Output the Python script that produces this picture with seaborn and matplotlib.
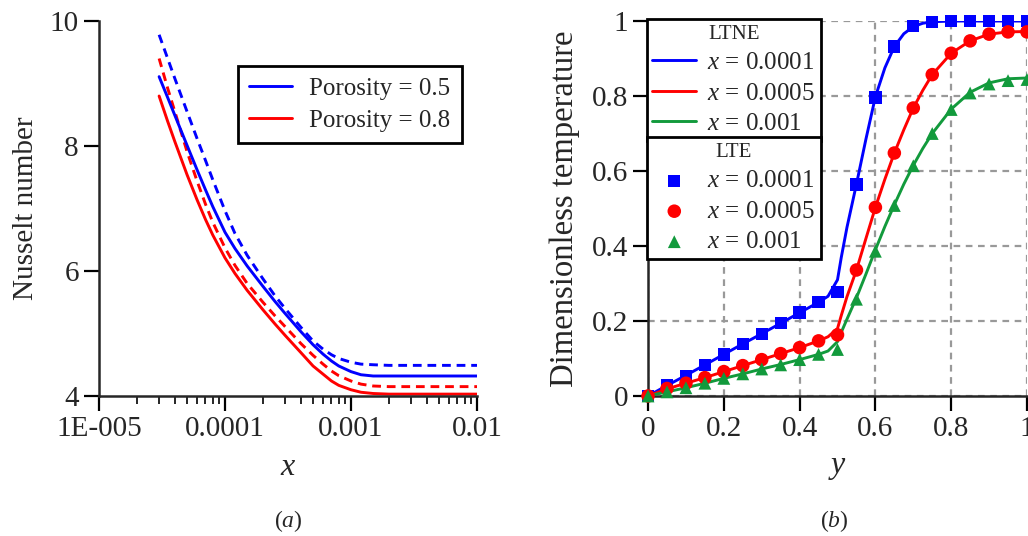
import matplotlib
matplotlib.use("Agg")
import matplotlib.pyplot as plt
import seaborn as sns
import pandas as pd
from matplotlib.ticker import NullFormatter, LogLocator

# ---------------- data: panel (a) ----------------
x_nu = [3e-5, 3.5e-5, 4e-5, 5e-5, 6e-5, 7e-5, 8e-5, 1e-4, 1.2e-4, 1.5e-4, 2e-4, 2.5e-4,
        3e-4, 4e-4, 5e-4, 6e-4, 7e-4, 8e-4, 1e-3, 1.2e-3, 1.5e-3, 2e-3, 3e-3, 1e-2]
nu_p05_solid = [9.11, 8.78, 8.49, 8.01, 7.62, 7.30, 7.03, 6.62, 6.36, 6.08, 5.755, 5.51,
                5.32, 5.03, 4.82, 4.67, 4.56, 4.48, 4.39, 4.34, 4.32, 4.32, 4.32, 4.32]
nu_p05_dashed = [9.78, 9.405, 9.08, 8.55, 8.12, 7.77, 7.46, 6.965, 6.60, 6.25, 5.875, 5.60,
                 5.40, 5.10, 4.88, 4.75, 4.66, 4.60, 4.54, 4.51, 4.50, 4.49, 4.49, 4.49]
nu_p08_solid = [8.80, 8.40, 8.07, 7.54, 7.14, 6.825, 6.575, 6.21, 5.96, 5.69, 5.38, 5.15,
                4.97, 4.695, 4.48, 4.35, 4.24, 4.17, 4.10, 4.06, 4.04, 4.03, 4.03, 4.03]
nu_p08_dashed = [9.40, 8.93, 8.55, 7.91, 7.44, 7.07, 6.78, 6.37, 6.09, 5.80, 5.50, 5.28,
                 5.11, 4.84, 4.65, 4.51, 4.40, 4.325, 4.24, 4.19, 4.16, 4.15, 4.15, 4.15]
porosity_labels = ["Porosity = 0.5", "Porosity = 0.8"]
x_ticks_a = [1e-5, 1e-4, 1e-3, 1e-2]
x_ticklabels_a = ["1E-005", "0.0001", "0.001", "0.01"]
y_ticks_a = [4, 6, 8, 10]

# ---------------- data: panel (b) ----------------
y_pts = [0, 0.05, 0.1, 0.15, 0.2, 0.25, 0.3, 0.35, 0.4, 0.45, 0.5,
         0.55, 0.6, 0.65, 0.7, 0.75, 0.8, 0.85, 0.9, 0.95, 1.0]
lte_x0001 = [0, 0.029, 0.054, 0.082, 0.111, 0.138, 0.165, 0.194, 0.223, 0.250, 0.277,
             0.564, 0.796, 0.932, 0.986, 0.998, 1.0, 1.0, 1.0, 1.0, 1.0]
lte_x0005 = [0, 0.020, 0.034, 0.049, 0.065, 0.081, 0.097, 0.113, 0.129, 0.147, 0.163,
             0.336, 0.503, 0.648, 0.768, 0.857, 0.914, 0.947, 0.965, 0.971, 0.971]
lte_x001 = [0, 0.011, 0.022, 0.034, 0.047, 0.059, 0.072, 0.083, 0.097, 0.111, 0.124,
            0.258, 0.386, 0.508, 0.614, 0.700, 0.764, 0.808, 0.832, 0.841, 0.844]

y_line = [0, 0.05, 0.1, 0.15, 0.2, 0.25, 0.3, 0.35, 0.4, 0.45, 0.475, 0.5, 0.51, 0.525,
          0.55, 0.575, 0.6, 0.625, 0.65, 0.675, 0.7, 0.725, 0.75, 0.8, 0.85, 0.9, 0.95, 1.0]
ltne_x0001 = [0, 0.028, 0.055, 0.083, 0.111, 0.139, 0.166, 0.194, 0.222, 0.250, 0.266, 0.310, 0.370, 0.450,
              0.565, 0.685, 0.798, 0.875, 0.932, 0.966, 0.985, 0.994, 0.998, 1.0, 1.0, 1.0, 1.0, 1.0]
ltne_x0005 = [0, 0.019, 0.034, 0.049, 0.065, 0.081, 0.097, 0.113, 0.129, 0.147, 0.158, 0.180, 0.215, 0.265,
              0.336, 0.420, 0.503, 0.578, 0.648, 0.710, 0.768, 0.815, 0.857, 0.914, 0.947, 0.965, 0.971, 0.972]
ltne_x001 = [0, 0.011, 0.022, 0.034, 0.047, 0.059, 0.072, 0.084, 0.097, 0.111, 0.120, 0.145, 0.170, 0.205,
             0.262, 0.325, 0.390, 0.452, 0.510, 0.565, 0.615, 0.660, 0.700, 0.765, 0.810, 0.835, 0.846, 0.848]
series_labels = ["$x$ = 0.0001", "$x$ = 0.0005", "$x$ = 0.001"]
ticks_b = [0, 0.2, 0.4, 0.6, 0.8, 1.0]
ticklabels_b = ["0", "0.2", "0.4", "0.6", "0.8", "1"]

BLUE, RED, GREEN = "#0000ff", "#ff0000", "#129a3c"

# ---------------- style ----------------
sns.set_style("ticks")
plt.rcParams["font.family"] = ["Liberation Serif", "DejaVu Serif"]
plt.rcParams["mathtext.fontset"] = "custom"
plt.rcParams["mathtext.rm"] = "Liberation Serif"
plt.rcParams["mathtext.it"] = "Liberation Serif:italic"
plt.rcParams["axes.linewidth"] = 1.8

fig = plt.figure(figsize=(10.28, 5.36), dpi=100)
ax1 = fig.add_axes([0.0963, 0.2612, 0.3677, 0.6996])
ax2 = fig.add_axes([0.6304, 0.2612, 0.3686, 0.6996])

TICK_FS = 21

# ---------------- panel (a) ----------------
df_a = pd.DataFrame({"x": x_nu, "s05": nu_p05_solid, "d05": nu_p05_dashed,
                     "s08": nu_p08_solid, "d08": nu_p08_dashed})
ax1.set_xscale("log")
handles_a = []
for col, color, dashed in [("d05", BLUE, True), ("d08", RED, True),
                           ("s05", BLUE, False), ("s08", RED, False)]:
    sns.lineplot(data=df_a, x="x", y=col, ax=ax1, color=color, lw=2.1)
    ln = ax1.lines[-1]
    if dashed:
        ln.set_dashes((3, 2))
    else:
        handles_a.append(ln)

ax1.set_xlim(1e-5, 1e-2)
ax1.set_ylim(4, 10)
ax1.set_xticks(x_ticks_a)
ax1.set_xticklabels(x_ticklabels_a)
ax1.xaxis.set_minor_locator(LogLocator(base=10, subs=range(2, 10)))
ax1.xaxis.set_minor_formatter(NullFormatter())
ax1.set_yticks(y_ticks_a)
ax1.set_yticklabels([str(v) for v in y_ticks_a])
ax1.tick_params(axis="both", which="major", direction="out", length=11, width=1.6,
                labelsize=TICK_FS, color="black")
ax1.tick_params(axis="x", which="minor", direction="out", length=6, width=1.4)
ax1.set_xlabel("$x$", fontsize=23, labelpad=8)
ax1.set_ylabel("Nusselt number", fontsize=21, labelpad=8)
for s in ["top", "right"]:
    ax1.spines[s].set_visible(False)
leg_a = ax1.legend(handles_a, porosity_labels, loc="upper right",
                   bbox_to_anchor=(0.960, 0.88), fontsize=18, frameon=True,
                   fancybox=False, framealpha=1, edgecolor="black",
                   handlelength=1.7, handletextpad=0.7, labelspacing=0.38,
                   borderpad=0.45, borderaxespad=0)
leg_a.get_frame().set_linewidth(2.0)

# ---------------- panel (b) ----------------
df_line = pd.DataFrame({"y": y_line, "a": ltne_x0001, "b": ltne_x0005, "c": ltne_x001})
df_pts = pd.DataFrame({"y": y_pts, "a": lte_x0001, "b": lte_x0005, "c": lte_x001})

line_handles = []
for col, color in [("a", BLUE), ("b", RED), ("c", GREEN)]:
    sns.lineplot(data=df_line, x="y", y=col, ax=ax2, color=color, lw=2.1, zorder=3)
    line_handles.append(ax2.lines[-1])

pt_handles = []
for col, color, mk, sz in [("a", BLUE, "s", 78), ("b", RED, "o", 95), ("c", GREEN, "^", 85)]:
    sns.scatterplot(data=df_pts, x="y", y=col, ax=ax2, color=color, marker=mk, s=sz,
                    edgecolor="none", linewidth=0, zorder=4, clip_on=False)
    pt_handles.append(ax2.collections[-1])

ax2.set_xlim(0, 1)
ax2.set_ylim(0, 1)
ax2.set_xticks(ticks_b)
ax2.set_xticklabels(ticklabels_b)
ax2.set_yticks(ticks_b)
ax2.set_yticklabels(ticklabels_b)
ax2.tick_params(axis="both", which="major", direction="out", length=11, width=1.6,
                labelsize=TICK_FS, color="black")
ax2.set_axisbelow(True)
ax2.grid(True, color="#999999", lw=1.6, ls=(0, (3, 2.5)))
ax2.set_xlabel("$y$", fontsize=23, labelpad=8)
ax2.set_ylabel("Dimensionless temperature", fontsize=23.5, labelpad=8)
for s in ["top", "right"]:
    ax2.spines[s].set_visible(False)

common = dict(fontsize=18, title_fontsize=15, frameon=True, fancybox=False, framealpha=1,
              edgecolor="black", handlelength=1.75, handletextpad=0.45, labelspacing=0.32,
              borderpad=0.22, borderaxespad=0, loc="upper left")
leg1 = ax2.legend(line_handles, series_labels, title="LTNE",
                  bbox_to_anchor=(-0.003, 1.005), **common)
leg1.get_frame().set_linewidth(2.0)
leg1.set_zorder(10)
ax2.add_artist(leg1)
leg2 = ax2.legend(pt_handles, series_labels, title="LTE",
                  bbox_to_anchor=(-0.003, 0.690), **common)
leg2.get_frame().set_linewidth(2.0)
leg2.set_zorder(10)

# ---------------- captions ----------------
fig.text(288 / 1028, 1 - 521 / 536, r"($\mathit{a}$)", ha="center", va="center", fontsize=17)
fig.text(834 / 1028, 1 - 521 / 536, r"($\mathit{b}$)", ha="center", va="center", fontsize=17)

fig.savefig("out.png", dpi=100)
